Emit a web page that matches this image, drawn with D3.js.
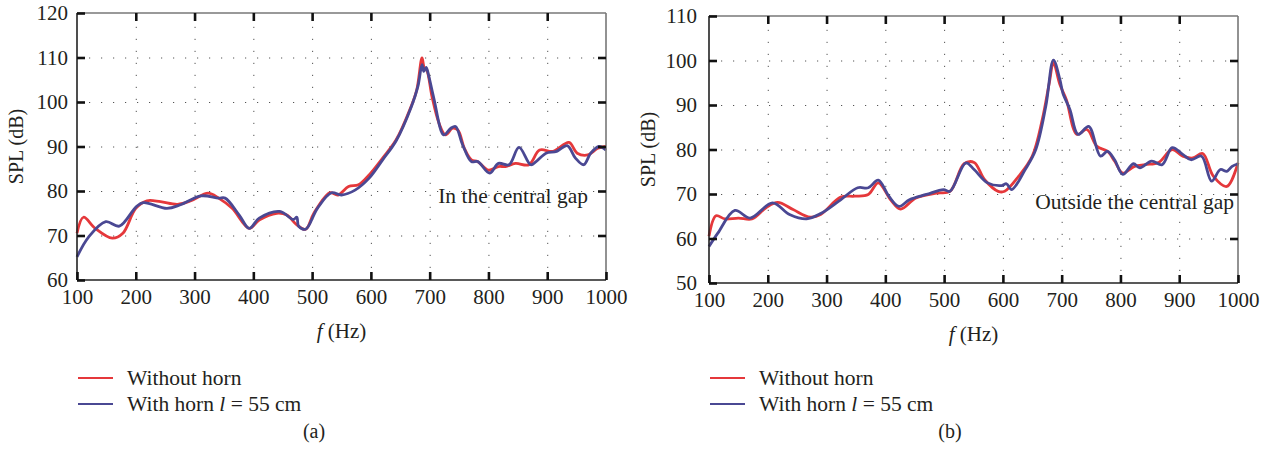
<!DOCTYPE html>
<html>
<head>
<meta charset="utf-8">
<script src="https://d3js.org/d3.v7.min.js"></script>
<style>
  body { margin: 0; background: #fff; }
  text { font-family: "Liberation Serif", "Times New Roman", serif; fill: #231f20; }
  .grid line { stroke: #555; stroke-width: 1; stroke-dasharray: 1.2 10.8; }
  .grid path { display: none; }
  .ax path { display: none; }
  .ax line { stroke: #111; stroke-width: 2.6; }
  .ax text { font-size: 21px; font-family: "Liberation Serif", serif; fill: #231f20; }
</style>
</head>
<body>
<svg id="chart" width="1270" height="455"></svg>
<script>
// frequency (Hz) / SPL (dB)
var freqA_red = [100,111,131,160,178,200,219,242,271,294,323,341,364,393,410,440,457,474,489,503,530,544,562,579,597,620,643,666,678,687,691,695,704,716,727,739,748,759,771,782,800,817,829,846,869,887,910,937,951,969,986,1000];
var splA_red  = [70.5,74.1,71.6,69.4,70.5,76.1,77.8,77.6,77.0,77.8,79.5,78.4,76.1,71.6,73.5,75.0,74.6,72.4,71.4,75.0,79.6,79.1,81.0,81.4,83.6,87.4,91.5,98.2,102.7,109.9,107.6,107.2,101.2,95.2,92.6,94.1,93.7,89.6,87.0,86.6,84.7,85.5,85.5,86.2,85.9,89.2,88.9,90.9,88.5,88.1,89.6,90.0];

var freqA_blue = [100,120,149,172,201,213,253,276,311,341,352,376,393,410,445,468,474,477,489,509,533,550,573,597,620,643,669,680,687,690,694,698,707,724,736,744,756,771,782,802,817,835,852,872,881,898,916,934,948,962,974,988,1000];
var splA_blue  = [65.2,69.7,73.1,72.1,76.5,77.4,76.1,76.9,78.9,78.4,78.4,74.6,71.6,73.9,75.4,73.6,74.1,72.1,71.4,76.1,79.6,79.1,80.2,82.9,87.0,91.3,99.0,103.5,108.4,106.9,107.8,106.1,100.9,92.6,94.1,94.5,90.4,86.6,86.6,84.0,86.2,85.9,89.8,85.9,86.6,88.5,88.9,90.2,87.4,85.9,88.5,90.0,89.2];

var freqB_red = [100,112,127,150,173,197,217,243,272,290,324,348,371,388,409,426,452,487,510,534,551,569,592,603,627,650,667,679,686,697,708,726,743,760,778,790,804,824,842,865,888,906,923,940,958,981,1000];
var splB_red  = [60.5,65.1,64.4,64.6,64.4,66.9,68.1,66.5,64.8,65.4,69.3,69.5,69.9,72.5,68.7,66.6,69.1,70.2,70.6,76.8,77.1,73.2,70.6,70.6,74.0,78.5,86.7,95.0,99.5,94.6,91.2,83.4,84.5,80.7,79.6,77.4,74.7,76.2,76.6,77.1,80.0,78.5,78.1,79.1,74.0,71.7,77.0];

var freqB_blue = [100,115,144,170,208,237,266,290,324,353,371,388,406,423,441,470,499,510,537,551,574,598,606,615,638,656,673,686,697,702,714,728,746,766,778,790,804,822,833,853,871,888,906,920,938,955,970,981,990,1000];
var splB_blue  = [58.2,61.2,66.3,64.6,68.0,65.4,64.4,65.6,68.7,71.4,71.4,73.1,69.5,67.2,68.7,69.9,71.0,70.6,77.0,75.5,72.5,71.9,72.3,71.0,75.5,80.0,89.7,100.1,95.7,92.7,89.0,83.4,85.2,78.5,79.6,77.7,74.4,76.8,75.9,77.4,76.6,80.4,78.9,77.7,78.5,72.9,75.5,75.1,76.2,76.8];

var xTicks = [100,200,300,400,500,600,700,800,900,1000];
var yTicksA = [60,70,80,90,100,110,120];
var yTicksB = [50,60,70,80,90,100,110];
var seriesNames = ["Without horn", "With horn l = 55 cm"];
var colRed = "#e5383b", colBlue = "#4a4893";

var svg = d3.select("#chart");
var fmt = d3.format("d");

function panel(o) {
  var w = o.x1 - o.x0, h = o.y1 - o.y0;
  var g = svg.append("g").attr("transform", "translate(" + o.x0 + "," + o.y0 + ")");
  var x = d3.scaleLinear().domain([100, 1000]).range([0, w]);
  var y = d3.scaleLinear().domain(o.ydom).range([h, 0]);

  // dotted grid
  g.append("g").attr("class", "grid").attr("transform", "translate(0," + h + ")")
    .call(d3.axisBottom(x).tickValues(xTicks.slice(1, -1)).tickSize(-h).tickFormat(""));
  g.append("g").attr("class", "grid")
    .call(d3.axisLeft(y).tickValues(o.yticks.slice(1, -1)).tickSize(-w).tickFormat(""));

  // curves
  var line = d3.line().x(function(d) { return x(d[0]); }).y(function(d) { return y(d[1]); })
    .curve(d3.curveCatmullRom.alpha(0.5));
  g.append("path").datum(d3.zip(o.fr, o.sr)).attr("d", line)
    .attr("fill", "none").attr("stroke", colRed).attr("stroke-width", 2.8);
  g.append("path").datum(d3.zip(o.fb, o.sb)).attr("d", line)
    .attr("fill", "none").attr("stroke", colBlue).attr("stroke-width", 2.8);

  // frame: top/right grey, left/bottom dark
  g.append("line").attr("x1", 0).attr("x2", w).attr("y1", 0).attr("y2", 0).attr("stroke", "#777").attr("stroke-width", 1.6);
  g.append("line").attr("x1", w).attr("x2", w).attr("y1", 0).attr("y2", h).attr("stroke", "#777").attr("stroke-width", 1.6);
  g.append("line").attr("x1", 0).attr("x2", 0).attr("y1", 0).attr("y2", h).attr("stroke", "#222").attr("stroke-width", 1.6);
  g.append("line").attr("x1", 0).attr("x2", w).attr("y1", h).attr("y2", h).attr("stroke", "#222").attr("stroke-width", 1.6);

  // inward ticks on all four sides
  g.append("g").attr("class", "ax").attr("transform", "translate(0," + h + ")")
    .call(d3.axisBottom(x).tickValues(xTicks).tickSize(-8).tickPadding(o.xpad).tickFormat(fmt));
  g.append("g").attr("class", "ax")
    .call(d3.axisTop(x).tickValues(xTicks.slice(1, -1)).tickSize(-8).tickFormat(""));
  g.append("g").attr("class", "ax")
    .call(d3.axisLeft(y).tickValues(o.yticks).tickSize(-8).tickPadding(o.ypad).tickFormat(fmt));
  g.append("g").attr("class", "ax").attr("transform", "translate(" + w + ",0)")
    .call(d3.axisRight(y).tickValues(o.yticks.slice(1, -1)).tickSize(-8).tickFormat(""));
  g.selectAll(".ax").attr("font-family", null).attr("font-size", null);

  // axis titles
  var xt = g.append("text").attr("x", w / 2).attr("y", h + o.xtitle).attr("text-anchor", "middle").style("font-size", "21px");
  xt.append("tspan").style("font-style", "italic").text("f");
  xt.append("tspan").text(" (Hz)");
  g.append("text").attr("transform", "translate(" + o.ytitleX + "," + (h / 2) + ") rotate(-90)")
    .attr("text-anchor", "middle").style("font-size", "20px").text("SPL (dB)");

  // annotation
  g.append("text").attr("x", o.noteX).attr("y", o.noteY).attr("text-anchor", "end")
    .style("font-size", "21.5px").text(o.note);

  // legend
  var lg = svg.append("g").attr("transform", "translate(" + o.legX + "," + o.legY + ")");
  [colRed, colBlue].forEach(function(c, i) {
    lg.append("line").attr("x1", 0).attr("x2", 35).attr("y1", i * 26).attr("y2", i * 26)
      .attr("stroke", c).attr("stroke-width", 2.2);
  });
  lg.append("text").attr("x", 49).attr("y", 7).style("font-size", "21.5px").text(seriesNames[0]);
  var t2 = lg.append("text").attr("x", 49).attr("y", 33).style("font-size", "21.5px");
  t2.append("tspan").text("With horn ");
  t2.append("tspan").style("font-style", "italic").text("l");
  t2.append("tspan").text(" = 55 cm");

  svg.append("text").attr("x", o.capX).attr("y", 438).attr("text-anchor", "middle")
    .style("font-size", "20px").text(o.cap);
}

panel({x0: 77, x1: 606, y0: 13, y1: 280, ydom: [60, 120], yticks: yTicksA,
  fr: freqA_red, sr: splA_red, fb: freqA_blue, sb: splA_blue,
  xpad: 9, ypad: 9, xtitle: 58, ytitleX: -54,
  note: "In the central gap", noteX: 511, noteY: 190,
  legX: 78, legY: 378, cap: "(a)", capX: 314});

panel({x0: 709, x1: 1238, y0: 16, y1: 283, ydom: [50, 110], yticks: yTicksB,
  fr: freqB_red, sr: splB_red, fb: freqB_blue, sb: splB_blue,
  xpad: 9, ypad: 12, xtitle: 58, ytitleX: -54,
  note: "Outside the central gap", noteX: 525, noteY: 193,
  legX: 710, legY: 378, cap: "(b)", capX: 950});
</script>
</body>
</html>
